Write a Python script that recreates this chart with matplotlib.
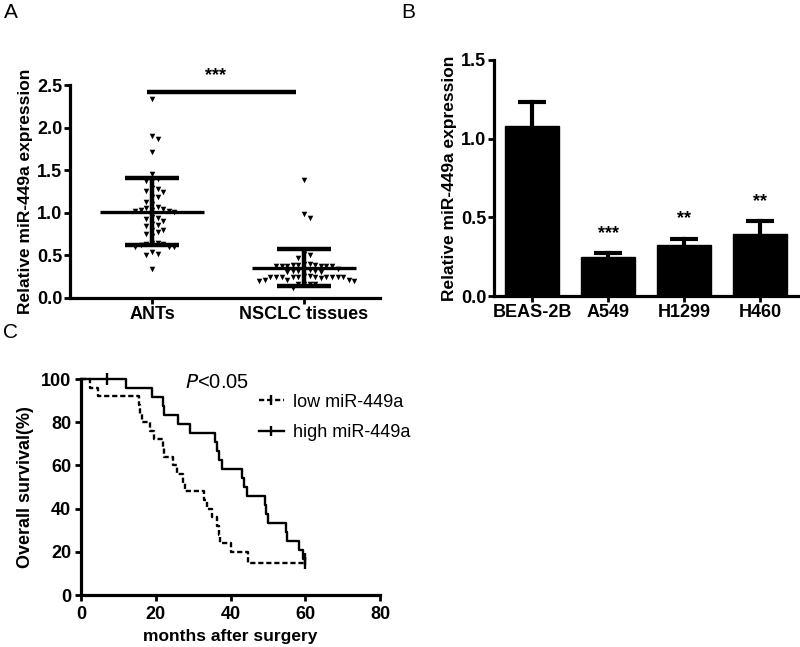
import matplotlib
matplotlib.use('Agg')
import matplotlib.pyplot as plt
import numpy as np
from matplotlib.lines import Line2D

plt.rcParams['font.family'] = ['Liberation Sans', 'DejaVu Sans']

# ---------------- data ----------------
scatter_groups = ['ANTs', 'NSCLC tissues']
ants_values = [2.33, 1.90, 1.87, 1.71, 1.46, 1.40, 1.37, 1.37, 1.29, 1.28, 1.26, 1.24,
               1.19, 1.19, 1.13, 1.10, 1.07, 1.06, 1.05, 1.03, 1.03, 1.02, 1.01, 1.02,
               0.95, 0.94, 0.93, 0.90, 0.87, 0.86, 0.85, 0.80, 0.80, 0.78, 0.75, 0.73,
               0.65, 0.64, 0.63, 0.63, 0.62, 0.60, 0.60, 0.60, 0.54, 0.52, 0.51, 0.34]
nsclc_values = [1.39, 0.99, 0.94, 0.52, 0.50, 0.47, 0.40, 0.40, 0.39, 0.39, 0.38, 0.38,
                0.37, 0.37, 0.37, 0.38, 0.39, 0.34, 0.33, 0.32, 0.32, 0.31, 0.31, 0.32,
                0.33, 0.26, 0.26, 0.25, 0.25, 0.25, 0.25, 0.25, 0.25, 0.25, 0.25, 0.25,
                0.25, 0.24, 0.21, 0.21, 0.21, 0.20, 0.20, 0.17, 0.17, 0.16, 0.16, 0.12]
scatter_mean = [1.015, 0.355]
scatter_sd = [0.395, 0.22]
scatter_sig = '***'
scatter_sig_y = 2.42

cell_lines = ['BEAS-2B', 'A549', 'H1299', 'H460']
bar_means = [1.08, 0.25, 0.325, 0.395]
bar_errs = [0.15, 0.025, 0.04, 0.08]
bar_stars = ['', '***', '**', '**']

low_times = [0, 2.4, 4.6, 15.5, 15.8, 16.2, 18.4, 19.5, 21.9, 22.1, 24.7, 25.6, 27.4,
             27.7, 33.0, 33.6, 35.0, 36.4, 36.8, 37.1, 40.0, 44.8, 60]
low_surv = [100, 96, 92, 88, 84, 80, 76, 72, 68, 64, 60, 56, 52, 48, 44, 40, 36, 32,
            28, 24, 20, 15, 15]
low_censor_t = [60]
low_censor_s = [15]
high_times = [0, 12.0, 18.9, 22.0, 22.2, 26.0, 29.1, 35.8, 36.3, 37.0, 37.6, 43.0,
              43.7, 44.3, 49.2, 49.6, 50.1, 54.8, 55.0, 58.4, 59.3, 60]
high_surv = [100, 95.8, 91.7, 87.5, 83.3, 79.2, 75.0, 70.8, 66.7, 62.5, 58.3, 54.2,
             50.0, 45.8, 41.7, 37.5, 33.3, 29.2, 25.0, 20.8, 16.7, 16.7]
high_censor_t = [7, 60]
high_censor_s = [100, 16.7]
km_labels = ['low miR-449a', 'high miR-449a']

W, H = 800, 647
fig = plt.figure(figsize=(8, 6.47), dpi=100)

def fx(px):
    return px / W

def fy(py):
    return 1 - py / H

SP_LW = 2.3
TICK_FS = 13

def style_axes(ax, pad=1.5):
    for s in ['top', 'right']:
        ax.spines[s].set_visible(False)
    for s in ['left', 'bottom']:
        ax.spines[s].set_linewidth(SP_LW)
    ax.tick_params(width=2.0, length=4, pad=pad, labelsize=TICK_FS)
    for lab in ax.get_xticklabels() + ax.get_yticklabels():
        lab.set_fontweight('bold')

# ---------------- Panel A ----------------
axA = fig.add_axes([fx(70), fy(298), fx(380) - fx(70), fy(85) - fy(298)])
axA.set_xlim(-0.54, 1.5)
axA.set_ylim(0, 2.5)

def swarm(vals, center, px_x, px_y, diam=5.6):
    order = np.argsort(vals)[::-1]
    placed = []
    xs = np.zeros(len(vals))
    step = diam / px_x
    cands = [0]
    for j in range(1, 40):
        cands += [j, -j]
    for i in order:
        v = vals[i]
        for c in cands:
            x = c * step
            ok = True
            for (px_, py_) in placed:
                dx = (x - px_) * px_x
                dy = (v - py_) * px_y
                if dx * dx + dy * dy < diam * diam * 0.9:
                    ok = False
                    break
            if ok:
                xs[i] = center + x
                placed.append((x, v))
                break
    return xs

px_x = (380 - 70) / 2.04
px_y = (298 - 85) / 2.5
for gi, vals in enumerate([ants_values, nsclc_values]):
    vals = np.array(vals)
    xs = swarm(vals, gi, px_x, px_y)
    axA.scatter(xs, vals, marker='v', s=16, color='black', linewidths=0, zorder=3, clip_on=False)
    m, sd = scatter_mean[gi], scatter_sd[gi]
    axA.plot([gi - 0.34, gi + 0.34], [m, m], color='black', lw=2.4, zorder=4, solid_capstyle='butt')
    axA.plot([gi, gi], [m - sd, m + sd], color='black', lw=3.2, zorder=4, solid_capstyle='butt')
    for yv in (m - sd, m + sd):
        axA.plot([gi - 0.175, gi + 0.175], [yv, yv], color='black', lw=3.2, zorder=4,
                 solid_capstyle='butt')

axA.plot([-0.035, 0.95], [scatter_sig_y, scatter_sig_y], color='black', lw=3.2, clip_on=False,
         solid_capstyle='butt')
axA.text(0.42, scatter_sig_y + 0.09, scatter_sig, ha='center', va='bottom', fontsize=13,
         fontweight='bold')
axA.set_xticks([0, 1])
axA.set_xticklabels(scatter_groups)
axA.set_yticks([0, 0.5, 1.0, 1.5, 2.0, 2.5])
axA.set_yticklabels(['0.0', '0.5', '1.0', '1.5', '2.0', '2.5'])
style_axes(axA)
axA.set_ylabel('Relative miR-449a expression', fontsize=12.5, fontweight='bold', labelpad=3)

# ---------------- Panel B ----------------
axB = fig.add_axes([fx(494), fy(296), fx(798) - fx(494), fy(60) - fy(296)])
axB.set_xlim(-0.5, 3.5)
axB.set_ylim(0, 1.5)
xb = np.arange(len(cell_lines))
axB.bar(xb, bar_means, width=0.71, color='black', edgecolor='black', zorder=2)
for i in range(len(cell_lines)):
    top = bar_means[i] + bar_errs[i]
    axB.plot([xb[i], xb[i]], [bar_means[i], top], color='black', lw=3.0, zorder=3)
    axB.plot([xb[i] - 0.18, xb[i] + 0.18], [top, top], color='black', lw=3.0, zorder=3,
             solid_capstyle='butt')
    if bar_stars[i]:
        axB.text(xb[i], top + 0.07, bar_stars[i], ha='center', va='bottom', fontsize=13,
                 fontweight='bold')
axB.set_xticks(xb)
axB.set_xticklabels(cell_lines)
axB.set_yticks([0, 0.5, 1.0, 1.5])
axB.set_yticklabels(['0.0', '0.5', '1.0', '1.5'])
style_axes(axB)
axB.set_ylabel('Relative miR-449a expression', fontsize=12.5, fontweight='bold', labelpad=3)

# ---------------- Panel C ----------------
axC = fig.add_axes([fx(81), fy(595), fx(380) - fx(81), fy(379) - fy(595)])
axC.set_xlim(0, 80)
axC.set_ylim(0, 100)
dash = (0, (2.2, 1.2))
axC.step(low_times, low_surv, where='post', color='black', lw=1.7, linestyle=dash, clip_on=False)
axC.step(high_times, high_surv, where='post', color='black', lw=1.7, clip_on=False)
axC.plot(low_censor_t, low_censor_s, linestyle='none', marker='|', ms=8, mew=1.7, color='black',
         clip_on=False)
axC.plot(high_censor_t, high_censor_s, linestyle='none', marker='|', ms=8, mew=1.7, color='black',
         clip_on=False)
axC.set_xticks([0, 20, 40, 60, 80])
axC.set_yticks([0, 20, 40, 60, 80, 100])
style_axes(axC, pad=3)
axC.tick_params(axis='x', pad=4)
axC.set_xlabel('months after surgery', fontsize=12.5, fontweight='bold', labelpad=4)
axC.set_ylabel('Overall survival(%)', fontsize=13, fontweight='bold', labelpad=5)
axC.text(0.455, 0.985, r'$\it{P}$<0.05', transform=axC.transAxes, ha='center', va='center',
         fontsize=14.5)
handles = [Line2D([], [], color='black', lw=1.7, linestyle=dash, marker='|', ms=7, mew=1.7),
           Line2D([], [], color='black', lw=1.7, marker='|', ms=7, mew=1.7)]
leg = axC.legend(handles, km_labels, loc='upper left', bbox_to_anchor=(0.57, 0.965),
                 frameon=False, fontsize=13, handlelength=1.4, handletextpad=0.5,
                 labelspacing=0.75, borderaxespad=0)

# panel letters
fig.text(fx(4), fy(13), 'A', fontsize=15, va='center', ha='left')
fig.text(fx(401), fy(13), 'B', fontsize=15, va='center', ha='left')
fig.text(fx(3), fy(333), 'C', fontsize=15, va='center', ha='left')

fig.savefig('out.png', dpi=100)
